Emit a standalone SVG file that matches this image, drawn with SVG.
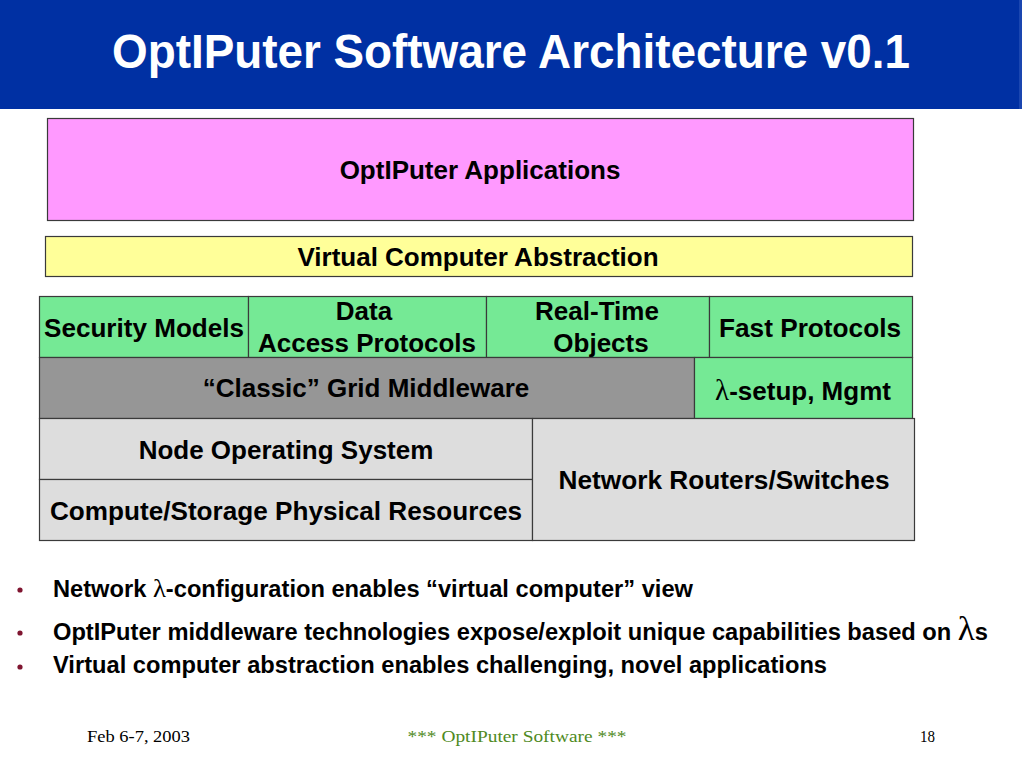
<svg xmlns="http://www.w3.org/2000/svg" width="1024" height="777" viewBox="0 0 1024 777">
<style>
.box{stroke:#3a3a3a;stroke-width:1.2}
.lbl{font-family:"Liberation Sans",Arial,sans-serif;font-weight:bold;font-size:26px;fill:#000;text-anchor:middle}
.lam{font-family:"Liberation Serif","Times New Roman",serif;font-weight:normal}
.bul{font-family:"Liberation Sans",Arial,sans-serif;font-weight:bold;font-size:23px;fill:#000}
.dot{fill:#7f1530}
.foot{font-family:"Liberation Serif","Times New Roman",serif;font-size:16px;fill:#000}
.foot-g{font-family:"Liberation Serif","Times New Roman",serif;font-size:16px;fill:#4f8a23}
</style>
<rect width="1024" height="777" fill="#ffffff"/>
<g id="title">
<rect x="0" y="0" width="1022" height="109" fill="#0030a3"/>
<rect x="1019" y="0" width="3" height="109" fill="#1a46b0"/>
<text x="511" y="68" font-family="Liberation Sans,Arial,sans-serif" font-weight="bold" font-size="48" fill="#ffffff" text-anchor="middle" textLength="798" lengthAdjust="spacingAndGlyphs">OptIPuter Software Architecture v0.1</text>
</g>
<g id="applications">
<rect class="box" x="47.5" y="118.5" width="866" height="102" fill="#ff99ff"/>
<text class="lbl" x="480" y="179">OptIPuter Applications</text>
</g>
<g id="virtual-computer">
<rect class="box" x="45.5" y="236.5" width="867" height="40" fill="#ffff99"/>
<text class="lbl" x="478" y="266">Virtual Computer Abstraction</text>
</g>
<g id="security-models">
<rect class="box" x="39.5" y="296.5" width="209" height="61" fill="#75e995"/>
<text class="lbl" x="144" y="337" textLength="200" lengthAdjust="spacingAndGlyphs">Security Models</text>
</g>
<g id="data-access">
<rect class="box" x="248.5" y="296.5" width="238" height="61" fill="#75e995"/>
<text class="lbl" x="364" y="320">Data</text>
<text class="lbl" x="367" y="352" textLength="218" lengthAdjust="spacingAndGlyphs">Access Protocols</text>
</g>
<g id="real-time">
<rect class="box" x="486.5" y="296.5" width="223" height="61" fill="#75e995"/>
<text class="lbl" x="597" y="320">Real-Time</text>
<text class="lbl" x="601" y="352">Objects</text>
</g>
<g id="fast-protocols">
<rect class="box" x="709.5" y="296.5" width="203" height="61" fill="#75e995"/>
<text class="lbl" x="810" y="337" textLength="182" lengthAdjust="spacingAndGlyphs">Fast Protocols</text>
</g>
<g id="grid-middleware">
<rect class="box" x="39.5" y="357.5" width="655" height="61" fill="#969696"/>
<text class="lbl" x="366" y="397">“Classic” Grid Middleware</text>
</g>
<g id="lambda-setup">
<rect class="box" x="694.5" y="357.5" width="218" height="61" fill="#75e995"/>
<text class="lbl" x="803" y="400"><tspan class="lam" font-size="29">λ</tspan>-setup, Mgmt</text>
</g>
<g id="node-os">
<rect class="box" x="39.5" y="418.5" width="493" height="61" fill="#dddddd"/>
<text class="lbl" x="286" y="459">Node Operating System</text>
</g>
<g id="compute-storage">
<rect class="box" x="39.5" y="479.5" width="493" height="61" fill="#dddddd"/>
<text class="lbl" x="286" y="520" textLength="472" lengthAdjust="spacingAndGlyphs">Compute/Storage Physical Resources</text>
</g>
<g id="network-routers">
<rect class="box" x="532.5" y="418.5" width="382" height="122" fill="#dddddd"/>
<text class="lbl" x="724" y="489" textLength="331" lengthAdjust="spacingAndGlyphs">Network Routers/Switches</text>
</g>
<g id="connectors"></g>
<g id="bullets">
<circle class="dot" cx="20" cy="590" r="2.6"/>
<circle class="dot" cx="20" cy="633" r="2.6"/>
<circle class="dot" cx="20" cy="667" r="2.6"/>
<text class="bul" x="53" y="597" textLength="640" lengthAdjust="spacingAndGlyphs">Network <tspan class="lam" font-size="26">λ</tspan>-configuration enables “virtual computer” view</text>
<text class="bul" x="53" y="640" textLength="935" lengthAdjust="spacingAndGlyphs">OptIPuter middleware technologies expose/exploit unique capabilities based on <tspan class="lam" font-size="34">λ</tspan>s</text>
<text class="bul" x="53" y="673" textLength="774" lengthAdjust="spacingAndGlyphs">Virtual computer abstraction enables challenging, novel applications</text>
</g>
<g id="footer">
<text class="foot" x="87" y="742" textLength="103" lengthAdjust="spacingAndGlyphs">Feb 6-7, 2003</text>
<text class="foot-g" x="517" y="742" text-anchor="middle" textLength="219" lengthAdjust="spacingAndGlyphs">*** OptIPuter Software ***</text>
<text class="foot" x="920" y="742" textLength="15" lengthAdjust="spacingAndGlyphs">18</text>
</g>
</svg>
